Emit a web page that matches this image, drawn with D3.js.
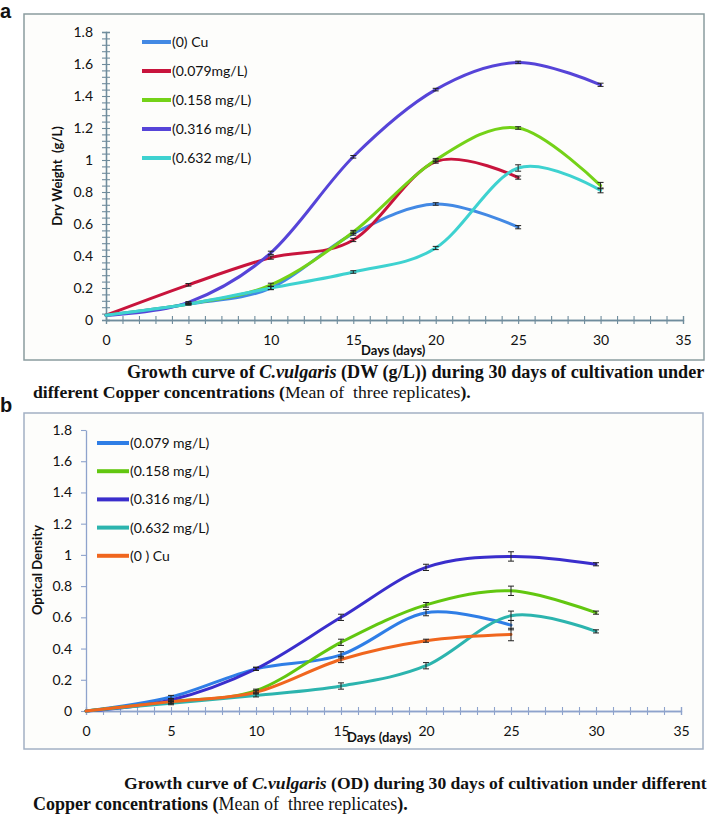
<!DOCTYPE html>
<html><head><meta charset="utf-8">
<script src="https://cdn.jsdelivr.net/npm/d3@7"></script>
<style>body{margin:0;background:#fff}svg{display:block}</style>
</head><body>
<svg id="c" width="708" height="814"></svg>
<script>
// ---------- DATA ----------
const days = [0, 5, 10, 15, 20, 25, 30];
const xTickValues = [0, 5, 10, 15, 20, 25, 30, 35];
const yTickValues = [0, 0.2, 0.4, 0.6, 0.8, 1, 1.2, 1.4, 1.6, 1.8];
const yTickLabels = ["0", "0.2", "0.4", "0.6", "0.8", "1", "1.2", "1.4", "1.6", "1.8"];

// Panel a : Dry weight (g/L)
const dwNames = ["(0) Cu", "(0.079mg/L)", "(0.158 mg/L)", "(0.316 mg/L)", "(0.632 mg/L)"];
const dw0     = [0.03, 0.10, 0.20, 0.54, 0.725, 0.58];
const dw079   = [0.03, 0.22, 0.39, 0.50, 0.99, 0.89];
const dw158   = [0.03, 0.10, 0.22, 0.55, 1.00, 1.20, 0.84];
const dw316   = [0.03, 0.11, 0.42, 1.02, 1.44, 1.61, 1.47];
const dw632   = [0.03, 0.10, 0.20, 0.30, 0.45, 0.95, 0.81];
const dwErr0   = [0, 0.005, 0.01, 0.01, 0.008, 0.01];
const dwErr079 = [0, 0.008, 0.01, 0.01, 0.01, 0.01];
const dwErr158 = [0, 0.005, 0.01, 0.01, 0.01, 0.008, 0.02];
const dwErr316 = [0, 0.005, 0.01, 0.008, 0.008, 0.008, 0.01];
const dwErr632 = [0, 0.005, 0.01, 0.008, 0.01, 0.02, 0.015];

// Panel b : Optical density
const odNames = ["(0.079 mg/L)", "(0.158 mg/L)", "(0.316 mg/L)", "(0.632 mg/L)", "(0 ) Cu"];
const od079 = [0, 0.09, 0.27, 0.36, 0.63, 0.55];
const od158 = [0, 0.06, 0.13, 0.44, 0.68, 0.77, 0.63];
const od316 = [0, 0.07, 0.27, 0.60, 0.92, 0.99, 0.94];
const od632 = [0, 0.05, 0.10, 0.16, 0.29, 0.61, 0.51];
const od0   = [0, 0.06, 0.12, 0.33, 0.45, 0.49];
const odErr079 = [0, 0.01, 0.01, 0.02, 0.02, 0.03];
const odErr158 = [0, 0.01, 0.01, 0.02, 0.015, 0.03, 0.01];
const odErr316 = [0, 0.01, 0.01, 0.02, 0.02, 0.03, 0.01];
const odErr632 = [0, 0.01, 0.01, 0.02, 0.02, 0.03, 0.01];
const odErr0   = [0, 0.01, 0.01, 0.02, 0.01, 0.04];

// ---------- STYLE ----------
const dwColors = ["#4389e4", "#c8143c", "#74d218", "#5644d8", "#3ed2d0"];
const odColors = ["#2f7ee6", "#62c710", "#3a2ecc", "#2cb4ae", "#f0661e"];
const sansFont = "Lato, 'Open Sans', sans-serif";
const serifFont = "'Liberation Serif', serif";

const svg = d3.select("#c");

function drawPanel(o) {
  const g = svg.append("g");
  g.append("rect").attr("x", o.frame[0]).attr("y", o.frame[1])
    .attr("width", o.frame[2]).attr("height", o.frame[3])
    .attr("fill", "#fdfdfb").attr("stroke", o.frameColor).attr("stroke-width", 1.5);

  const x = d3.scaleLinear().domain([0, 35]).range(o.xRange);
  const y = d3.scaleLinear().domain([0, 1.8]).range(o.yRange);

  // x axis: minor crossing ticks
  const minorX = d3.range(0, 36, 1);
  const axB = g.append("g").attr("transform", `translate(0,${y(0)})`)
    .call(d3.axisBottom(x).tickValues(minorX).tickSize(4).tickFormat(""));
  const axB2 = g.append("g").attr("transform", `translate(0,${y(0)})`)
    .call(d3.axisBottom(x).tickValues(minorX).tickSize(-4).tickFormat(""));
  [axB, axB2].forEach(a => {
    a.selectAll("path").attr("stroke", o.axisColor).attr("stroke-width", 1.3);
    a.selectAll("line").attr("stroke", o.axisColor).attr("stroke-width", 1.1);
  });
  const xl = g.append("g").attr("transform", `translate(0,${y(0)})`)
    .call(d3.axisBottom(x).tickValues(xTickValues).tickSize(0).tickPadding(o.xLabelPad));
  xl.select("path").remove();
  xl.selectAll("text").attr("font-family", sansFont).attr("font-size", 14).attr("fill", "#111");

  // y axis
  let ay;
  if (o.yMinor) {
    const minorY = d3.range(0, 1.8001, 0.04);
    const a1 = g.append("g").attr("transform", `translate(${x(0)},0)`)
      .call(d3.axisLeft(y).tickValues(minorY).tickSize(4).tickFormat(""));
    const a2 = g.append("g").attr("transform", `translate(${x(0)},0)`)
      .call(d3.axisLeft(y).tickValues(minorY).tickSize(-4).tickFormat(""));
    [a1, a2].forEach(a => {
      a.selectAll("path").attr("stroke", o.axisColor).attr("stroke-width", 1.3);
      a.selectAll("line").attr("stroke", o.axisColor).attr("stroke-width", 1.1);
    });
    ay = g.append("g").attr("transform", `translate(${x(0)},0)`)
      .call(d3.axisLeft(y).tickValues(yTickValues).tickSize(0).tickPadding(o.yLabelPad)
        .tickFormat((d, i) => yTickLabels[i]));
    ay.select("path").remove();
  } else {
    ay = g.append("g").attr("transform", `translate(${x(0)},0)`)
      .call(d3.axisLeft(y).tickValues(yTickValues).tickSize(5).tickSizeOuter(0).tickPadding(o.yLabelPad - 5)
        .tickFormat((d, i) => yTickLabels[i]));
    ay.selectAll("path").attr("stroke", o.axisColor).attr("stroke-width", 1.3);
    ay.selectAll("line").attr("stroke", o.axisColor).attr("stroke-width", 1.1);
  }
  ay.selectAll("text").attr("font-family", sansFont).attr("font-size", 14).attr("fill", "#111");

  // titles
  g.append("text").attr("transform", `translate(${o.yTitle[0]},${o.yTitle[1]}) rotate(-90)`)
    .attr("text-anchor", "middle").attr("font-family", sansFont).attr("font-weight", "bold")
    .attr("font-size", 13).attr("fill", "#111").attr("xml:space", "preserve").text(o.yTitleText);
  g.append("text").attr("x", o.xTitle[0]).attr("y", o.xTitle[1])
    .attr("font-family", sansFont).attr("font-weight", "bold")
    .attr("font-size", 13).attr("fill", "#111").text("Days (days)");

  // series
  const line = d3.line().x(d => x(d[0])).y(d => y(d[1])).curve(d3.curveCardinal.tension(0));
  o.series.forEach((s, i) => {
    const pts = s.map((v, j) => [days[j], v]);
    g.append("path").attr("d", line(pts)).attr("fill", "none")
      .attr("stroke", o.colors[i]).attr("stroke-width", 3).attr("stroke-linecap", "round");
  });
  // error bars
  o.series.forEach((s, i) => {
    s.forEach((v, j) => {
      const e = o.errs[i][j];
      if (!e) return;
      const cx = x(days[j]);
      const y1 = y(v + e), y2 = y(v - e);
      const eb = g.append("g").attr("stroke", "#222").attr("stroke-width", 1);
      eb.append("line").attr("x1", cx).attr("x2", cx).attr("y1", y1).attr("y2", y2);
      eb.append("line").attr("x1", cx - 3).attr("x2", cx + 3).attr("y1", y1).attr("y2", y1);
      eb.append("line").attr("x1", cx - 3).attr("x2", cx + 3).attr("y1", y2).attr("y2", y2);
    });
  });

  // legend
  o.names.forEach((n, i) => {
    const ly = o.legend.y0 + i * o.legend.dy;
    g.append("line").attr("x1", o.legend.x0).attr("x2", o.legend.x1).attr("y1", ly).attr("y2", ly)
      .attr("stroke", o.colors[i]).attr("stroke-width", 4);
    g.append("text").attr("x", o.legend.x1 + 1).attr("y", ly + 5)
      .attr("font-family", sansFont).attr("font-size", 14).attr("fill", "#111")
      .attr("xml:space", "preserve").text(n);
  });

  // panel letter
  svg.append("text").attr("x", 0).attr("y", o.letterY).attr("font-family", "'Liberation Sans', Arial, sans-serif")
    .attr("font-weight", "bold").attr("font-size", 20).attr("fill", "#111").text(o.letter);
}

drawPanel({
  frame: [24, 14, 680, 346], frameColor: "#8a9c9f", axisColor: "#6f8c9c",
  xRange: [106, 683], yRange: [320, 32], yMinor: true,
  xLabelPad: 15, yLabelPad: 13,
  yTitle: [62, 176], yTitleText: "Dry Weight  (g/L)", xTitle: [361, 355],
  series: [dw0, dw079, dw158, dw316, dw632],
  errs: [dwErr0, dwErr079, dwErr158, dwErr316, dwErr632],
  colors: dwColors, names: dwNames,
  legend: { x0: 142, x1: 171, y0: 42, dy: 29 },
  letter: "a", letterY: 18
});

drawPanel({
  frame: [24, 413, 679, 336], frameColor: "#a2b0c4", axisColor: "#8ea3cc",
  xRange: [86, 681], yRange: [711, 430], yMinor: false,
  xLabelPad: 15, yLabelPad: 14,
  yTitle: [42, 570], yTitleText: "Optical Density", xTitle: [347, 742],
  series: [od079, od158, od316, od632, od0],
  errs: [odErr079, odErr158, odErr316, odErr632, odErr0],
  colors: odColors, names: odNames,
  legend: { x0: 97, x1: 129, y0: 443, dy: 28.2 },
  letter: "b", letterY: 412
});

// ---------- CAPTIONS ----------
function caption(x, yb, targetW, parts) {
  const t = svg.append("text").attr("x", x).attr("y", yb).attr("font-family", serifFont)
    .attr("font-size", 16).attr("fill", "#111").attr("xml:space", "preserve");
  parts.forEach(p => {
    t.append("tspan").attr("font-weight", p[1] ? "bold" : "normal")
      .attr("font-style", p[2] ? "italic" : "normal").text(p[0]);
  });
  const w = t.node().getComputedTextLength();
  t.attr("font-size", 16 * targetW / w);
}
caption(127, 378, 578, [["Growth curve of ", 1], ["C.vulgaris", 1, 1], [" (DW (g/L)) during 30 days of cultivation under", 1]]);
caption(33, 398, 438, [["different Copper concentrations (", 1], ["Mean of  three replicates", 0], [").", 1]]);
caption(124, 789, 583, [["Growth curve of ", 1], ["C.vulgaris", 1, 1], [" (OD) during 30 days of cultivation under different", 1]]);
caption(33, 810, 375, [["Copper concentrations (", 1], ["Mean of  three replicates", 0], [").", 1]]);
</script>
</body></html>
